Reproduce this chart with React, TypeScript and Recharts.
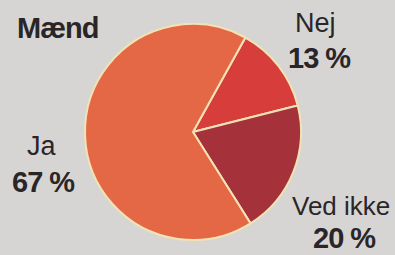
import React from "react";
import { PieChart, Pie, Cell } from "recharts";

const categories = ["Nej", "Ved ikke", "Ja"];
const values = [13, 20, 67];
const colors = ["#d73d3a", "#a5313b", "#e46845"];
const title = "Mænd";

const data = categories.map((name, i) => ({ name, value: values[i] }));

const font = "'Liberation Sans', Arial, sans-serif";

export default function App() {
  return (
    <div style={{ position: "fixed", left: 0, top: 0, width: 395, height: 255, background: "#d7d5d4", overflow: "hidden" }}>
      <PieChart width={395} height={255} margin={{ top: 0, right: 0, bottom: 0, left: 0 }}>
        <Pie
          data={data}
          dataKey="value"
          nameKey="name"
          cx={193}
          cy={132}
          outerRadius={108}
          startAngle={61}
          endAngle={-299}
          stroke="#f2e3b4"
          strokeWidth={2}
          isAnimationActive={false}
        >
          {data.map((d, i) => (
            <Cell key={d.name} fill={colors[i]} />
          ))}
        </Pie>
      </PieChart>
      <svg width={395} height={255} style={{ position: "absolute", left: 0, top: 0 }}>
        <g fill="#2a2628" fontFamily={font}>
          <text x={17} y={38} fontSize={29} fontWeight="bold" letterSpacing={-1}>{title}</text>
          <text x={295} y={32} fontSize={27}>{categories[0]}</text>
          <text x={288} y={68} fontSize={29} fontWeight="bold" letterSpacing={-1}>{values[0]} %</text>
          <text x={27} y={155} fontSize={27}>{categories[2]}</text>
          <text x={12} y={192} fontSize={29} fontWeight="bold" letterSpacing={-1}>{values[2]} %</text>
          <text x={292} y={215} fontSize={26}>{categories[1]}</text>
          <text x={313} y={248} fontSize={29} fontWeight="bold" letterSpacing={-1}>{values[1]} %</text>
        </g>
      </svg>
    </div>
  );
}
